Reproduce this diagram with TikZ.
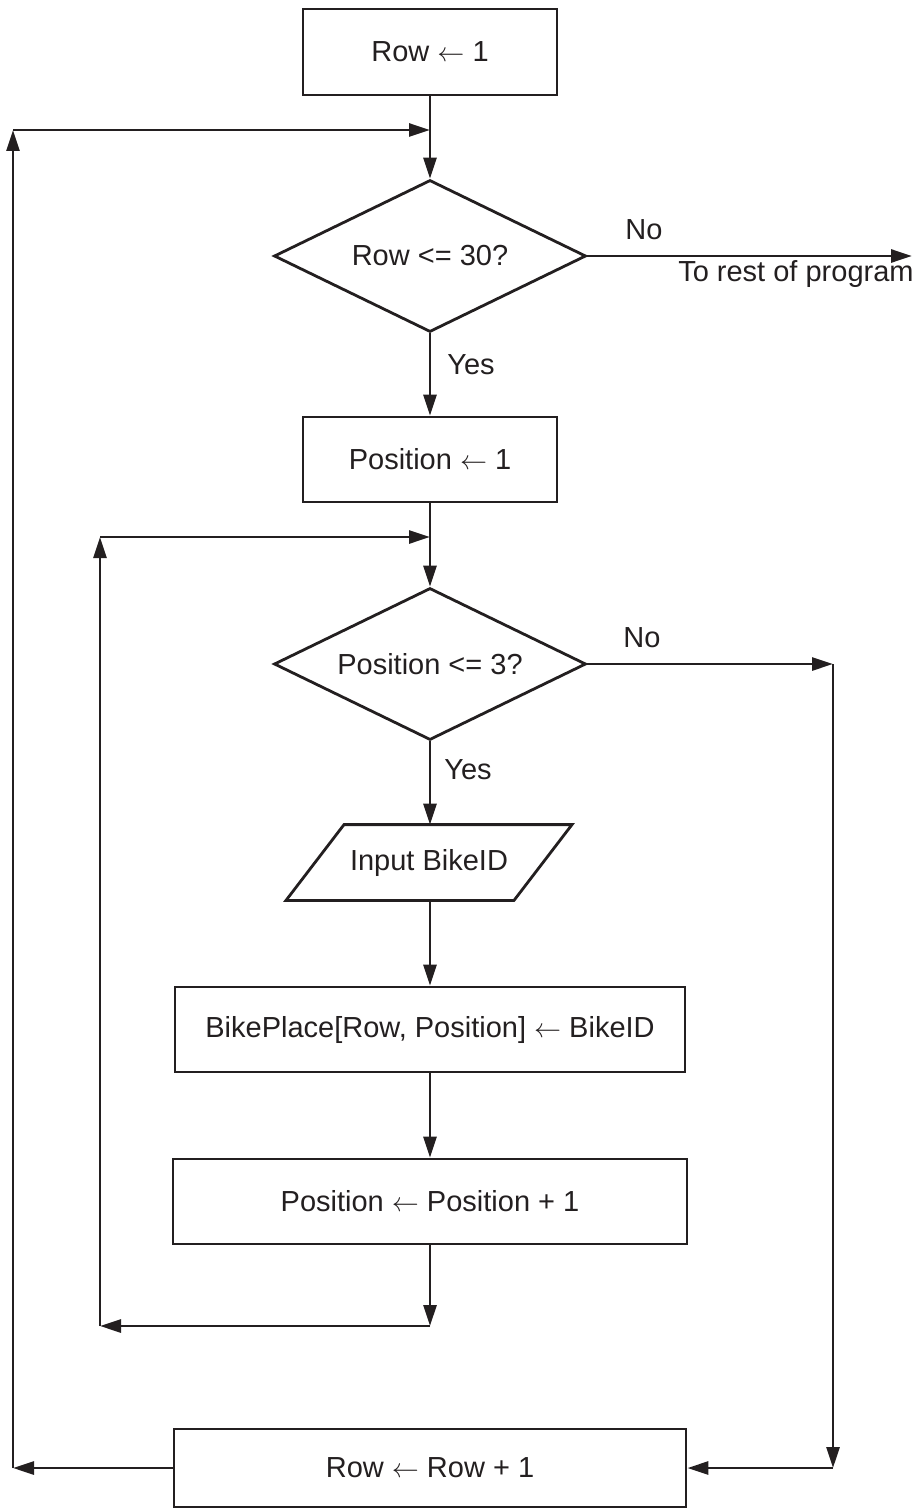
\documentclass[tikz,border=0pt]{standalone}
\usepackage{graphicx}
\usepackage{fontspec}
\setmainfont{Liberation Sans}
\usetikzlibrary{arrows.meta,calc,shapes.geometric}
\definecolor{ink}{RGB}{35,31,32}
\newcommand{\myleftarr}{\resizebox{27bp}{!}{$\leftarrow$}}
\begin{document}
\begin{tikzpicture}[x=1bp,y=-1bp,
  line width=2.8bp, draw=ink, text=ink,
  every node/.style={font=\fontsize{29bp}{35bp}\selectfont, text=ink},
  procbox/.style={draw=ink, rectangle, inner sep=0pt, minimum width=#1, minimum height=86bp},
  decide/.style={draw=ink, diamond, inner sep=0pt, aspect=2.05, minimum width=312bp, minimum height=152bp},
  plain/.style={inner sep=0pt},
  flow/.style={draw=ink, -{Triangle[length=21bp,width=13bp]}},
  link/.style={draw=ink}
]
\useasboundingbox (0,0) rectangle (917,1510);

% nodes
\node[procbox=254bp] (b1) at (430,52) {Row \myleftarr{} 1};
\node[decide] (d1) at (430,256) {Row <= 30?};
\node[procbox=254bp, minimum height=85bp] (b2) at (430,459.5) {Position \myleftarr{} 1};
\node[decide] (d2) at (430,664) {Position <= 3?};
\node[plain, minimum height=73bp, minimum width=228bp] (inp) at (429,862.5) {Input BikeID};
\draw[ink] ($(inp.south)+(-143,0)$) -- ($(inp.south)+(85,0)$) -- ($(inp.north)+(143,0)$) -- ($(inp.north)+(-85,0)$) -- cycle;
\node[procbox=510bp, minimum height=85bp] (b3) at (430,1029.5) {BikePlace[Row, Position] \myleftarr{} BikeID};
\node[procbox=514bp, minimum height=85bp] (b4) at (430,1201.5) {Position \myleftarr{} Position + 1};
\node[procbox=512bp, minimum height=78bp] (b5) at (430,1468) {Row \myleftarr{} Row + 1};

% labels
\node[plain, anchor=base west] (no1) at (624,239) {No};
\node[plain, anchor=base east] (torest) at (915,281) {To rest of program};
\node[plain, anchor=base west] (yes1) at (446,374) {Yes};
\node[plain, anchor=base west] (no2) at (622,647) {No};
\node[plain, anchor=base west] (yes2) at (443,779) {Yes};

% coordinates
\coordinate (oBL) at (13,1468);
\coordinate (oTL) at (13,130);
\coordinate (oTR) at (430,130);
\coordinate (iBL) at (100,1326);
\coordinate (iTL) at (100,537);
\coordinate (iBR) at (430,1326);
\coordinate (iTR) at (430,537);
\coordinate (rT) at (833,664);
\coordinate (rB) at (833,1468);
\coordinate (exit) at (912,256);

% main flow
\draw[flow] (b1.south) -- (d1.north);
\draw[flow] (d1.south) -- (b2.north);
\draw[flow] (b2.south) -- (d2.north);
\draw[flow] (d2.south) -- (d2.south |- inp.north);
\draw[flow] (d2.south |- inp.south) -- (d2.south |- b3.north);
\draw[flow] (b3.south) -- (b4.north);
\draw[flow] (b4.south) -- (iBR);

% exit
\draw[flow] (d1.east) -- (exit);

% inner loop
\draw[flow] (iBR) -- (iBL);
\draw[flow] (iBL) -- (iTL);
\draw[flow] (iTL) -- (iTR);

% no branch of inner decision
\draw[flow] (d2.east) -- (rT);
\draw[flow] (rT) -- (rB);
\draw[flow] (rB) -- (b5.east);

% outer loop
\draw[flow] (b5.west) -- (oBL);
\draw[flow] (oBL) -- (oTL);
\draw[flow] (oTL) -- (oTR);
\end{tikzpicture}
\end{document}
